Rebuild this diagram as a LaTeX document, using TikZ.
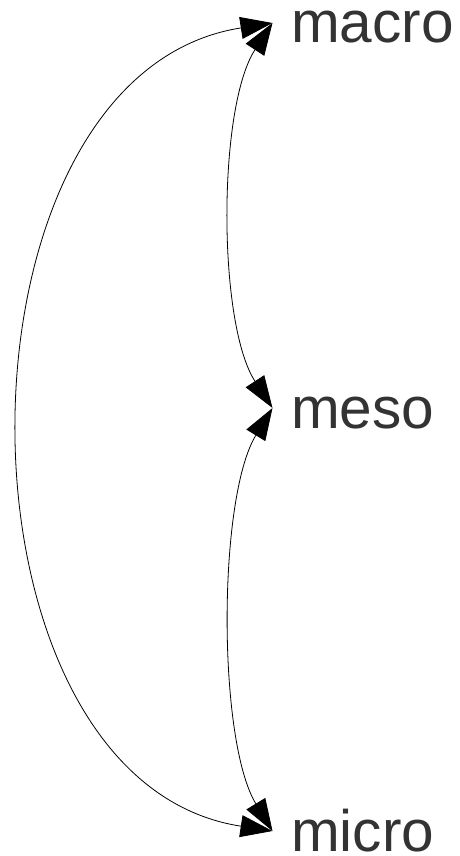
\documentclass[tikz,border=0pt]{standalone}
\usepackage{fontspec}
\setmainfont{Liberation Sans}
\usetikzlibrary{arrows.meta}
\definecolor{textgray}{RGB}{51,51,51}
\begin{document}
\begin{tikzpicture}[x=1pt,y=-1pt]
        \useasboundingbox (0,0) rectangle (459,856);
        \tikzset{LevelStyle/.style={anchor=west, inner xsep=18.5pt, inner ysep=0pt,
            text height=40pt, text depth=0pt, text=textgray,
            font=\fontsize{58.5}{58.5}\selectfont}}
        \node[LevelStyle] (Macro) at (272.5,23) {macro};
        \node[LevelStyle] (Meso) at (272.5,408) {meso};
        \node[LevelStyle] (Micro) at (272.5,831) {micro};
        \tikzset{LinkStyle/.style={{Triangle[length=32pt,width=22pt]}-{Triangle[length=32pt,width=22pt]},
            line width=0.8pt}}
        \draw[LinkStyle] (Macro.west) .. controls +(-333,52) and +(-333,-51) .. (Micro.west);
        \draw[LinkStyle] (Macro.west) .. controls +(-55,84) and +(-55,-84) .. (Meso.west);
        \draw[LinkStyle] (Meso.west) .. controls +(-55,90) and +(-55,-90) .. (Micro.west);
    \end{tikzpicture}
\end{document}
